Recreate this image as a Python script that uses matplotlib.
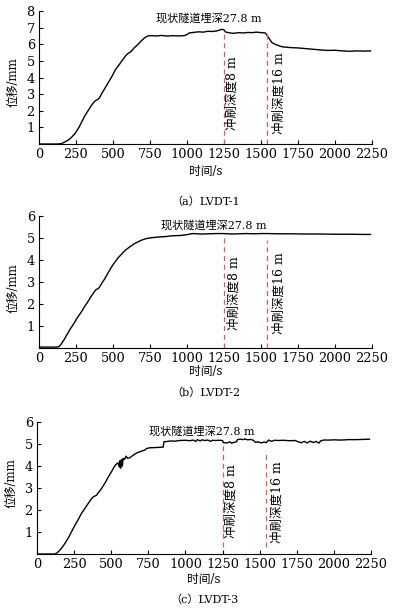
import numpy as np
import matplotlib.pyplot as plt

plt.rcParams['font.family'] = ['DejaVu Serif', 'Noto Sans CJK SC']
plt.rcParams['axes.unicode_minus'] = False

# LVDT-1
t_a = [0, 120, 150, 170, 200, 225, 245, 270, 290, 310, 335, 360, 380, 400, 410, 425,
       445, 470, 495, 515, 540, 560, 585, 600, 620, 645, 670, 690, 715, 735, 760, 790,
       830, 870, 900, 940, 980, 1000, 1015, 1050, 1080, 1110, 1140, 1170, 1200, 1237,
       1250, 1260, 1290, 1320, 1350, 1380, 1410, 1440, 1470, 1500, 1530, 1545, 1560,
       1574, 1600, 1642, 1700, 1750, 1800, 1866, 1900, 1950, 2000, 2050, 2100, 2150,
       2200, 2240]
v_a = [0, 0, 0.02, 0.1, 0.25, 0.45, 0.65, 1.0, 1.35, 1.7, 2.05, 2.4, 2.6, 2.7, 2.8, 3.05,
       3.35, 3.72, 4.1, 4.45, 4.75, 5.0, 5.3, 5.44, 5.55, 5.8, 6.0, 6.2, 6.4, 6.5, 6.52, 6.5,
       6.53, 6.49, 6.52, 6.5, 6.52, 6.58, 6.68, 6.72, 6.75, 6.73, 6.78, 6.77, 6.8, 6.9,
       6.87, 6.74, 6.68, 6.66, 6.7, 6.68, 6.71, 6.7, 6.73, 6.7, 6.68, 6.48, 6.28,
       6.1, 5.98, 5.85, 5.8, 5.78, 5.74, 5.69, 5.66, 5.63, 5.64, 5.6, 5.58, 5.6,
       5.59, 5.6]

# LVDT-2
t_b = [0, 60, 120, 135, 150, 170, 190, 210, 230, 250, 270, 290, 310, 330, 350, 370,
       385, 400, 410, 425, 445, 470, 490, 510, 535, 560, 585, 610, 640, 670, 700, 730,
       760, 800, 850, 900, 950, 1000, 1037, 1100, 1150, 1200, 1250, 1300, 1350, 1400,
       1450, 1500, 1550, 1600, 1700, 1800, 1900, 2000, 2100, 2200, 2240]
v_b = [0.04, 0.04, 0.04, 0.06, 0.18, 0.38, 0.62, 0.85, 1.05, 1.28, 1.48, 1.68, 1.9, 2.1,
       2.32, 2.52, 2.65, 2.7, 2.78, 2.95, 3.15, 3.45, 3.68, 3.88, 4.1, 4.28, 4.45, 4.58,
       4.72, 4.83, 4.92, 4.98, 5.01, 5.04, 5.06, 5.1, 5.11, 5.15, 5.2, 5.18, 5.19, 5.2,
       5.2, 5.18, 5.19, 5.2, 5.19, 5.2, 5.2, 5.19, 5.19, 5.18, 5.18, 5.17, 5.17, 5.16,
       5.16]

# LVDT-3
t_c = [0, 120, 135, 150, 165, 185, 210, 230, 255, 280, 300, 325, 345, 365, 380, 400,
       415, 435, 460, 480, 505, 525, 545, 555, 560, 565, 570, 575, 580, 590, 600, 610,
       625, 640, 660, 680, 705, 725, 740, 760, 800, 850, 855, 880, 900, 930, 960, 1000,
       1030, 1050, 1070, 1080, 1100, 1110, 1130, 1150, 1170, 1180, 1200, 1230, 1250,
       1255, 1280, 1300, 1310, 1330, 1345, 1350, 1370, 1390, 1400, 1420, 1440, 1460,
       1470, 1490, 1510, 1530, 1545, 1560, 1580, 1600, 1630, 1660, 1700, 1740, 1760,
       1780, 1800, 1820, 1840, 1860, 1880, 1900, 1910, 1930, 1970, 2000, 2050, 2100,
       2150, 2200, 2240]
v_c = [0, 0, 0.05, 0.15, 0.26, 0.45, 0.72, 0.98, 1.3, 1.6, 1.85, 2.1, 2.3, 2.5, 2.6, 2.67,
       2.8, 2.98, 3.25, 3.5, 3.78, 4.02, 4.15, 3.95, 4.25, 3.9, 4.3, 4.0, 4.35, 4.3, 4.45,
       4.35, 4.38, 4.45, 4.55, 4.62, 4.68, 4.72, 4.8, 4.83, 4.84, 4.86, 5.1, 5.12, 5.14,
       5.13, 5.16, 5.17, 5.15, 5.18, 5.12, 5.2, 5.14, 5.19, 5.16, 5.18, 5.12, 5.17, 5.16,
       5.17, 5.16, 5.06, 5.05, 5.1, 5.04, 5.08, 5.1, 5.2, 5.22, 5.2, 5.23, 5.19, 5.21,
       5.16, 5.08, 5.1, 5.05, 5.09, 5.06, 5.18, 5.12, 5.17, 5.16, 5.17, 5.15, 5.16, 5.1,
       5.06, 5.12, 5.05, 5.13, 5.07, 5.12, 5.04, 5.14, 5.18, 5.18, 5.19, 5.18, 5.2, 5.2,
       5.21, 5.22]

scour_t = [1250, 1540]
scour_labels = ['冲刷深度8 m', '冲刷深度16 m']
captions = ['（a）LVDT-1', '（b）LVDT-2', '（c）LVDT-3']
y_max = [8, 6, 6]
# top/bottom of the red dashed lines in each panel
line_top = [[6.87, 6.7], [5.05, 4.9], [5.0, 4.64]]
line_bot = [[0, 0], [0, 0], [0.33, 0.33]]

fig = plt.figure(figsize=(3.97, 6.16), dpi=100)
boxes = [[0.0982, 0.7662, 0.8388, 0.2159],
         [0.0982, 0.4351, 0.8388, 0.2143],
         [0.0932, 0.1006, 0.8413, 0.2143]]
series = [(t_a, v_a), (t_b, v_b), (t_c, v_c)]
title_pos = [(1149, 7.56), (1183, 5.59), (1112, 5.59)]
vtext_pos = [[(1304, 3.07), (1620, 3.07)],
             [(1317, 2.49), (1620, 2.49)],
             [(1308, 2.42), (1618, 2.38)]]
xlab_y = [-0.21, -0.18, -0.19]
cap_y = [-0.436, -0.34, -0.348]
ylab_y = [0.466, 0.45, 0.54]

for i in range(3):
    ax = fig.add_axes(boxes[i])
    t, v = series[i]
    ax.plot(t, v, color='black', linewidth=1.0)
    for k in range(2):
        ax.plot([scour_t[k], scour_t[k]], [line_bot[i][k], line_top[i][k]],
                color='#e05a5a', linewidth=0.9, linestyle=(0, (4, 3)))
        ax.text(vtext_pos[i][k][0], vtext_pos[i][k][1], scour_labels[k],
                rotation=90, ha='center', va='center', fontsize=9)
    ax.text(title_pos[i][0], title_pos[i][1], '现状隧道埋深27.8 m',
            ha='center', va='center', fontsize=8)
    ax.set_xlim(0, 2250)
    ax.set_ylim(0, y_max[i])
    ax.set_xticks(np.arange(0, 2251, 250))
    ax.set_yticks(np.arange(1, y_max[i] + 1))
    ax.spines['top'].set_visible(False)
    ax.spines['right'].set_visible(False)
    ax.tick_params(direction='in', length=3, width=0.8, labelsize=9.3, pad=3)
    ax.set_xlabel('时间/s', fontsize=8.5)
    ax.xaxis.set_label_coords(0.5, xlab_y[i])
    ax.xaxis.label.set_verticalalignment('center')
    ax.set_ylabel('位移/mm', fontsize=8.5)
    ax.yaxis.set_label_coords(-0.078, ylab_y[i])
    ax.yaxis.label.set_verticalalignment('center')
    ax.text(0.5, cap_y[i], captions[i], transform=ax.transAxes,
            ha='center', va='center', fontsize=8)

fig.savefig('out.png', dpi=100)
